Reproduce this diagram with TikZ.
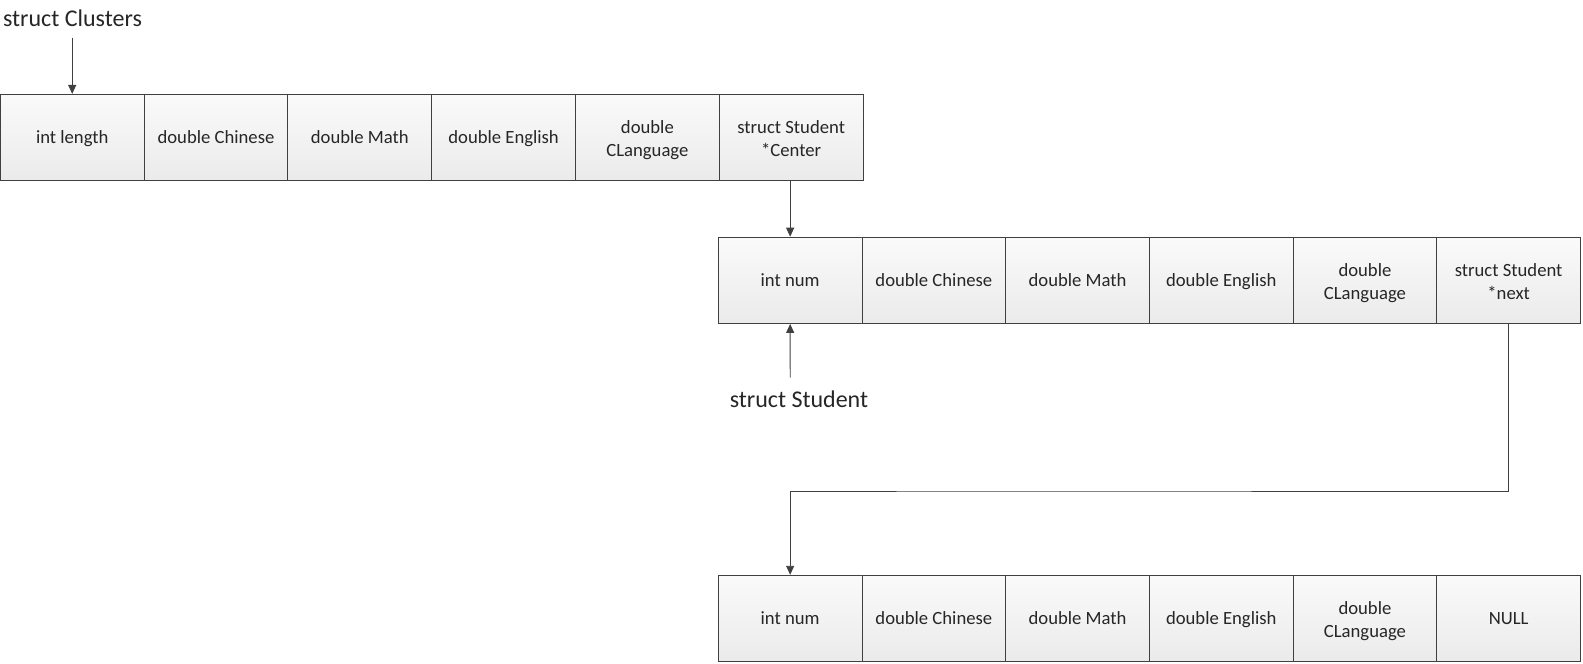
\documentclass[tikz,border=0pt]{standalone}
\usepackage{fontspec}
\setmainfont{Carlito}
\usetikzlibrary{arrows.meta}
\definecolor{edge}{HTML}{404040}
\newcommand\mytallstrut{\rule{0pt}{20.5pt}}
\tikzset{
  cell/.style={draw=edge, line width=0.9pt, minimum width=143.8pt, minimum height=86.3pt,
    top color=white!98!black, bottom color=white!92!black, inner sep=2pt,
    align=center, font=\fontsize{18.67}{23}\selectfont, text=black!85,
    execute at begin node={\rule{0pt}{17.5pt}},
    execute at end node={\rule[-5pt]{0pt}{0pt}}},
  lab/.style={font=\fontsize{24}{29}\selectfont, text=black!85, inner sep=0pt},
  conn/.style={draw=edge, line width=0.9pt},
  arr/.style={conn, -{Triangle[length=9pt,width=8pt]}}
}
\begin{document}
\begin{tikzpicture}[x=1pt,y=-1pt]
\useasboundingbox (0,0) rectangle (1583,664);
% row 1
\foreach \t [count=\i from 0] in {int length,double Chinese,double Math,double English,\mytallstrut double\\CLanguage,\mytallstrut struct Student\\*Center}{
  \node[cell] (c\i) at ({0.3+143.8*(\i+0.5)},137.5) {\t};
}
% row 2
\foreach \t [count=\i from 0] in {int num,double Chinese,double Math,double English,\mytallstrut double\\CLanguage,\mytallstrut struct Student\\*next}{
  \node[cell] (d\i) at ({718.3+143.7*(\i+0.5)},280.3) {\t};
}
% row 3
\foreach \t [count=\i from 0] in {int num,double Chinese,double Math,double English,\mytallstrut double\\CLanguage,NULL}{
  \node[cell] (e\i) at ({718.3+143.7*(\i+0.5)},618.4) {\t};
}
\node[lab] (l1) at (72.5,18) {struct Clusters};
\node[lab] (l2) at (799,399) {struct Student};
\coordinate (s1) at (72.2,37.5);
\coordinate (s2) at (790.2,377.6);
\coordinate (bend) at (1000,491);
\draw[arr] (s1) -- (c0.north);
\draw[arr] (d0.north |- c5.south) -- (d0.north);
\draw[arr] (s2) -- (d0.south);
\draw[arr] (d5.south) |- (bend) -| (e0.north);
\end{tikzpicture}
\end{document}
